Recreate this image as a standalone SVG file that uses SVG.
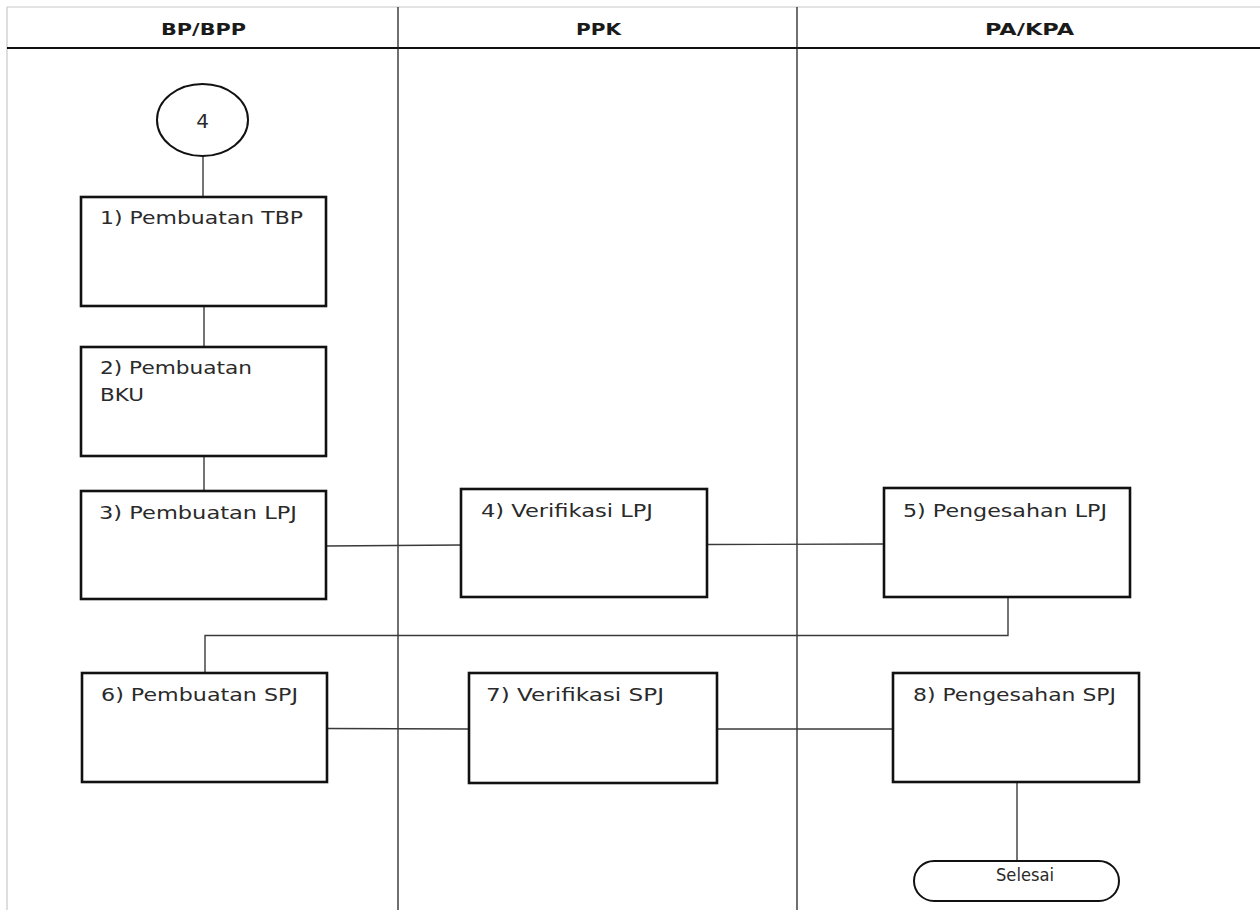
<svg xmlns="http://www.w3.org/2000/svg" width="1260" height="910" viewBox="0 0 1260 910">
  <style>
    .lane { stroke: #222; stroke-width: 1.3; fill: none; }
    .frame { stroke: #c8c8c8; stroke-width: 1.2; fill: none; }
    .head { font-family: "DejaVu Sans", Verdana, sans-serif; font-weight: bold; font-size: 16px; fill: #1a1a1a; }
    .box { fill: #fff; stroke: #111; stroke-width: 2.6; }
    .term { fill: #fff; stroke: #111; stroke-width: 2; }
    .lbl { font-family: "DejaVu Sans", Verdana, sans-serif; font-size: 17px; fill: #2a2a2a; }
    .big { font-size: 20px; }
    .conn { stroke: #3a3a3a; stroke-width: 1.4; fill: none; }
  </style>
  <rect width="1260" height="910" fill="#fff"/>

  <!-- swimlane table -->
  <g id="lanes">
    <line class="frame" x1="7" y1="7" x2="1260" y2="7"/>
    <line class="frame" x1="7" y1="7" x2="7" y2="910"/>
    <line x1="7" y1="48" x2="1260" y2="48" stroke="#111" stroke-width="2"/>
    <line class="lane" x1="398" y1="7" x2="398" y2="910"/>
    <line class="lane" x1="797" y1="7" x2="797" y2="910"/>
    <text class="head" x="203.5" y="35" text-anchor="middle" textLength="85" lengthAdjust="spacingAndGlyphs">BP/BPP</text>
    <text class="head" x="598.5" y="35" text-anchor="middle" textLength="45" lengthAdjust="spacingAndGlyphs">PPK</text>
    <text class="head" x="1029.5" y="35" text-anchor="middle" textLength="89" lengthAdjust="spacingAndGlyphs">PA/KPA</text>
  </g>

  <!-- connectors -->
  <g id="connectors">
    <line class="conn" x1="203" y1="156" x2="203" y2="197"/>
    <line class="conn" x1="204" y1="306" x2="204" y2="347"/>
    <line class="conn" x1="204" y1="456" x2="204" y2="491"/>
    <line class="conn" x1="326" y1="546" x2="461" y2="545"/>
    <line class="conn" x1="707" y1="544.5" x2="884" y2="544"/>
    <polyline class="conn" points="1008,597 1008,635.5 205,635.5 205,673"/>
    <line class="conn" x1="327" y1="728.5" x2="469" y2="729"/>
    <line class="conn" x1="717" y1="729" x2="893" y2="729"/>
    <line class="conn" x1="1017" y1="782" x2="1017" y2="861"/>
  </g>

  <g id="start">
    <ellipse class="term" cx="202.5" cy="120" rx="45.5" ry="36"/>
    <text class="lbl big" x="202.5" y="128" text-anchor="middle">4</text>
  </g>

  <g id="n1">
    <rect class="box" x="81" y="197" width="245" height="109"/>
    <text class="lbl" x="100" y="224" textLength="203" lengthAdjust="spacingAndGlyphs">1) Pembuatan TBP</text>
  </g>

  <g id="n2">
    <rect class="box" x="81" y="347" width="245" height="109"/>
    <text class="lbl" x="100" y="374" textLength="152" lengthAdjust="spacingAndGlyphs">2) Pembuatan</text>
    <text class="lbl" x="100" y="401" textLength="44" lengthAdjust="spacingAndGlyphs">BKU</text>
  </g>

  <g id="n3">
    <rect class="box" x="81" y="491" width="245" height="108"/>
    <text class="lbl" x="99" y="519" textLength="198" lengthAdjust="spacingAndGlyphs">3) Pembuatan LPJ</text>
  </g>

  <g id="n4">
    <rect class="box" x="461" y="489" width="246" height="108"/>
    <text class="lbl" x="481" y="517" textLength="172" lengthAdjust="spacingAndGlyphs">4) Verifikasi LPJ</text>
  </g>

  <g id="n5">
    <rect class="box" x="884" y="488" width="246" height="109"/>
    <text class="lbl" x="903" y="517" textLength="204" lengthAdjust="spacingAndGlyphs">5) Pengesahan LPJ</text>
  </g>

  <g id="n6">
    <rect class="box" x="82" y="673" width="245" height="109"/>
    <text class="lbl" x="101" y="701" textLength="197" lengthAdjust="spacingAndGlyphs">6) Pembuatan SPJ</text>
  </g>

  <g id="n7">
    <rect class="box" x="469" y="673" width="248" height="110"/>
    <text class="lbl" x="486" y="701" textLength="178" lengthAdjust="spacingAndGlyphs">7) Verifikasi SPJ</text>
  </g>

  <g id="n8">
    <rect class="box" x="893" y="673" width="246" height="109"/>
    <text class="lbl" x="913" y="701" textLength="203" lengthAdjust="spacingAndGlyphs">8) Pengesahan SPJ</text>
  </g>

  <g id="end">
    <rect class="term" x="914" y="861" width="205" height="40" rx="20" ry="20"/>
    <text class="lbl" x="996" y="881" textLength="58" lengthAdjust="spacingAndGlyphs">Selesai</text>
  </g>
</svg>
